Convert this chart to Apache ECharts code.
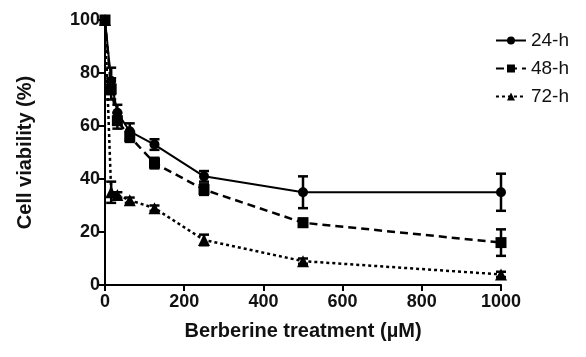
<!DOCTYPE html>
<html>
<head>
<meta charset="utf-8">
<script src="https://cdn.jsdelivr.net/npm/echarts@6/dist/echarts.min.js"></script>
<style>
  html, body { margin: 0; padding: 0; background: #fff; }
  #main { width: 586px; height: 357px; }
</style>
</head>
<body>
<div id="main"></div>
<script>
// berberine concentrations (uM)
const conc = [0, 15.6, 31.25, 62.5, 125, 250, 500, 1000];
const v24 = [100, 77, 65, 58, 53, 41, 35, 35];
const e24 = [0, 5, 3, 3, 2, 2, 6, 7];
const v48 = [100, 74, 62, 56, 46, 36, 23.5, 16];
const e48 = [0, 4, 3, 2, 2, 2, 1.5, 5];
const v72 = [100, 35, 34, 32, 29, 17, 9, 4];
const e72 = [0, 4, 1, 1, 1, 2, 1, 1];
const seriesNames = ['24-h', '48-h', '72-h'];

const pairs = vals => conc.map((c, i) => [c, vals[i]]);
const errRows = (vals, errs) => conc.map((c, i) => [c, vals[i] - errs[i], vals[i] + errs[i]]);

function errorBar(params, api) {
    const x = api.value(0);
    const lo = api.coord([x, api.value(1)]);
    const hi = api.coord([x, api.value(2)]);
    const w = 5;
    const style = { stroke: '#000', lineWidth: 2.5, fill: null };
    return {
        type: 'group',
        children: [
            { type: 'line', shape: { x1: lo[0], y1: lo[1], x2: hi[0], y2: hi[1] }, style },
            { type: 'line', shape: { x1: lo[0] - w, y1: lo[1], x2: lo[0] + w, y2: lo[1] }, style },
            { type: 'line', shape: { x1: hi[0] - w, y1: hi[1], x2: hi[0] + w, y2: hi[1] }, style }
        ]
    };
}

const chart = echarts.init(document.getElementById('main'));
const labelFont = { fontFamily: 'Liberation Sans, Arial, sans-serif', fontWeight: 'bold', color: '#111' };

chart.setOption({
    animation: false,
    grid: { left: 105, right: 85, top: 20, bottom: 72 },
    legend: {
        orient: 'vertical',
        right: 12,
        top: 26,
        itemGap: 9,
        itemWidth: 30,
        itemHeight: 10,
        data: seriesNames,
        textStyle: { fontFamily: 'Liberation Sans, Arial, sans-serif', fontSize: 19, color: '#111' }
    },
    xAxis: {
        type: 'value',
        min: 0, max: 1000, interval: 200,
        name: 'Berberine treatment (\u00b5M)',
        nameLocation: 'middle',
        nameGap: 36,
        nameTextStyle: Object.assign({ fontSize: 20 }, labelFont),
        axisLine: { lineStyle: { color: '#000', width: 2 } },
        axisTick: { length: 6, lineStyle: { color: '#000', width: 2 } },
        axisLabel: Object.assign({ fontSize: 18, margin: 8, formatter: v => String(v) }, labelFont),
        splitLine: { show: false }
    },
    yAxis: {
        type: 'value',
        min: 0, max: 100, interval: 20,
        name: 'Cell viability (%)',
        nameLocation: 'middle',
        nameGap: 70,
        nameTextStyle: Object.assign({ fontSize: 20 }, labelFont),
        axisLine: { show: true, lineStyle: { color: '#000', width: 2 } },
        axisTick: { show: true, length: 6, lineStyle: { color: '#000', width: 2 } },
        axisLabel: Object.assign({ fontSize: 18, margin: 5 }, labelFont),
        splitLine: { show: false }
    },
    series: [
        {
            name: '24-h', type: 'line', data: pairs(v24),
            symbol: 'circle', symbolSize: 10,
            lineStyle: { color: '#000', width: 2 },
            itemStyle: { color: '#000' }, z: 3
        },
        {
            name: '48-h', type: 'line', data: pairs(v48),
            symbol: 'rect', symbolSize: 11,
            lineStyle: { color: '#000', width: 2.5, type: [8, 5] },
            itemStyle: { color: '#000' }, z: 3
        },
        {
            name: '72-h', type: 'line', data: pairs(v72),
            symbol: 'triangle', symbolSize: 12,
            lineStyle: { color: '#000', width: 2.5, type: [3, 3] },
            itemStyle: { color: '#000' }, z: 3
        },
        { type: 'custom', renderItem: errorBar, data: errRows(v24, e24), z: 4 },
        { type: 'custom', renderItem: errorBar, data: errRows(v48, e48), z: 4 },
        { type: 'custom', renderItem: errorBar, data: errRows(v72, e72), z: 4 }
    ]
});
</script>
</body>
</html>
